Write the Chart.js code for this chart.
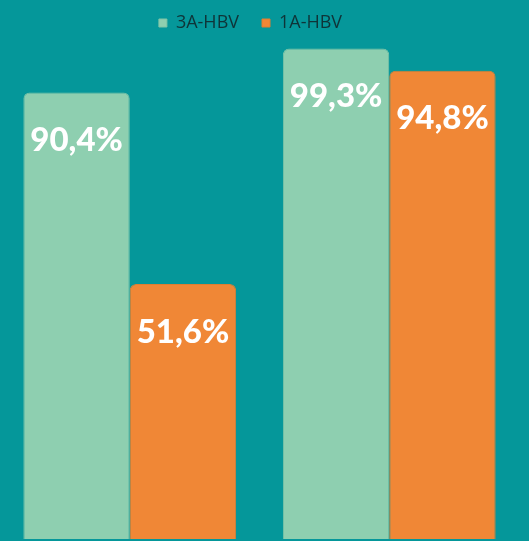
<!DOCTYPE html>
<html>
<head>
<meta charset="utf-8">
<script src="https://cdn.jsdelivr.net/npm/chart.js@4/dist/chart.umd.min.js"></script>
<style>
  html, body { margin: 0; padding: 0; background: #05979a; }
  #wrap { width: 529px; height: 541px; position: relative; }
</style>
</head>
<body>
<div id="wrap"><canvas id="c"></canvas></div>
<script>
var categories = ["Group 1", "Group 2"];
var series3A = [90.4, 99.3];
var series1A = [51.6, 94.8];
var seriesNames = ["3A-HBV", "1A-HBV"];

// white % labels inside the bars, near the top
var barLabels = {
    id: "barLabels",
    afterLayout: function(chart) {
        // legend in the original sits a little left of centre
        chart.legend.left -= 9;
        chart.legend.right -= 9;
    },
    afterDatasetsDraw: function(chart) {
        var ctx = chart.ctx;
        ctx.save();
        ctx.fillStyle = "#ffffff";
        ctx.font = "900 33px Lato";
        ctx.textAlign = "center";
        ctx.textBaseline = "middle";
        chart.data.datasets.forEach(function(ds, i) {
            var meta = chart.getDatasetMeta(i);
            meta.data.forEach(function(bar, j) {
                var txt = ds.data[j].toFixed(1).replace(".", ",") + "%";
                ctx.fillText(txt, bar.x, bar.y + 48);
            });
        });
        ctx.restore();
    }
};

new Chart(document.getElementById("c"), {
    type: "bar",
    data: {
        labels: categories,
        datasets: [{
            label: seriesNames[0],
            data: series3A,
            backgroundColor: "#8ecfb0",
            borderColor: "#80c4a6",
            borderWidth: 1,
            borderRadius: 6,
            borderSkipped: "bottom"
        }, {
            label: seriesNames[1],
            data: series1A,
            backgroundColor: "#f08736",
            borderColor: "#e07e30",
            borderWidth: 1,
            borderRadius: 6,
            borderSkipped: "bottom"
        }]
    },
    options: {
        responsive: true,
        maintainAspectRatio: false,
        animation: false,
        categoryPercentage: 0.82,
        barPercentage: 1.0,
        layout: { padding: { left: 0, right: 10, top: -9, bottom: 2 } },
        scales: {
            x: { display: false },
            y: { display: false, min: 0, max: 100.6 }
        },
        plugins: {
            tooltip: { enabled: false },
            legend: {
                position: "top",
                labels: {
                    boxWidth: 8,
                    boxHeight: 8,
                    padding: 23,
                    color: "#0f3438",
                    font: { family: "Open Sans", size: 18 }
                }
            }
        }
    },
    plugins: [barLabels]
});
</script>
</body>
</html>
